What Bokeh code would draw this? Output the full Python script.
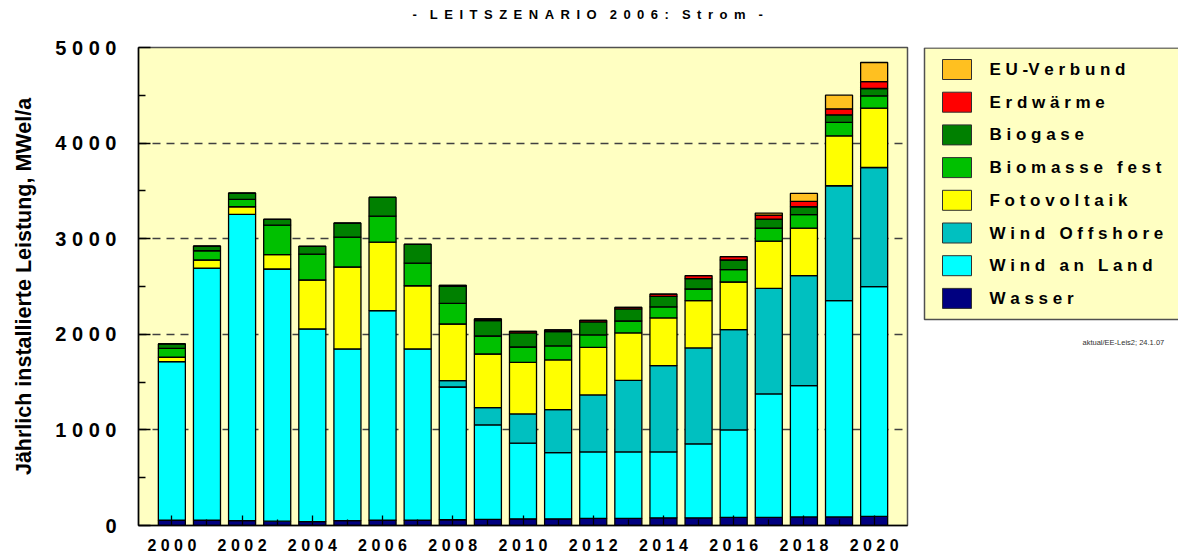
from bokeh.plotting import figure
from bokeh.models import ColumnDataSource, Range1d, FixedTicker, Title
from bokeh.layouts import row
from bokeh.core.properties import value
from bokeh.embed import file_html
from bokeh.resources import INLINE

# ---- data (MW el per year) ----
years = list(range(2000, 2021))
wasser        = [55, 55, 50, 45, 40, 50, 55, 55, 60, 65, 70, 70, 75, 75, 80, 80, 85, 85, 90, 90, 95]
wind_land     = [1659, 2638, 3204, 2638, 2016, 1797, 2192, 1792, 1389, 987, 791, 693, 695, 695, 690, 774, 915, 1291, 1373, 2262, 2403]
wind_offshore = [0, 0, 0, 0, 0, 0, 0, 0, 67, 181, 306, 449, 596, 749, 902, 1003, 1049, 1105, 1150, 1202, 1247]
fotovoltaik   = [46, 84, 80, 150, 512, 857, 718, 661, 592, 561, 540, 520, 498, 495, 499, 495, 498, 494, 498, 522, 621]
biomasse_fest = [93, 97, 77, 310, 271, 313, 272, 237, 216, 188, 160, 146, 129, 125, 115, 122, 129, 136, 140, 140, 128]
biogase       = [46, 49, 66, 59, 81, 146, 195, 195, 177, 161, 147, 150, 136, 126, 111, 108, 101, 94, 83, 80, 77]
erdwaerme     = [0, 0, 0, 0, 0, 0, 0, 0, 11, 17, 17, 17, 17, 17, 24, 31, 35, 42, 56, 63, 73]
eu_verbund    = [0, 0, 0, 0, 0, 0, 0, 0, 0, 0, 0, 0, 0, 0, 0, 0, 0, 21, 84, 142, 199]

series_keys = ["wasser", "wind_land", "wind_offshore", "fotovoltaik",
               "biomasse_fest", "biogase", "erdwaerme", "eu_verbund"]
series_names = ["Wasser", "Wind an Land", "Wind Offshore", "Fotovoltaik",
                "Biomasse fest", "Biogase", "Erdwärme", "EU-Verbund"]
series_colors = ["#000080", "#00FFFF", "#00C0C0", "#FFFF00",
                 "#00C000", "#008000", "#FF0000", "#FFC020"]

y_ticks = [0, 1000, 2000, 3000, 4000, 5000]
y_minor = [500, 1500, 2500, 3500, 4500]
x_ticks = list(range(2000, 2021, 2))
x_minor = list(range(2001, 2021, 2))

title_words = ["-", "LEITSZENARIO", "2006:", "Strom", "-"]
note_text = "aktual/EE-Leis2; 24.1.07"
y_label = "Jährlich installierte Leistung, MWel/a"


def spaced(words, gap, word_gap):
    return word_gap.join(gap.join(w) for w in words)


title_text = spaced(title_words, "\u2002", "\u2002\u2002")
legend_labels = [spaced(n.split(" "), " ", " \u00a0 ").replace("- V", "-V") for n in series_names]

source = ColumnDataSource(dict(
    year=years, wasser=wasser, wind_land=wind_land, wind_offshore=wind_offshore,
    fotovoltaik=fotovoltaik, biomasse_fest=biomasse_fest, biogase=biogase,
    erdwaerme=erdwaerme, eu_verbund=eu_verbund))

FONT = "Liberation Sans"
BG = "#FFFFC2"
H = 556

# ---------------- main chart ----------------
p = figure(width=910, height=H, output_backend="svg", toolbar_location=None, title=None,
           x_range=Range1d(1999.05, 2020.95), y_range=Range1d(0, 5000),
           min_border_left=138, min_border_right=3, min_border_top=47, min_border_bottom=31)
p.background_fill_color = BG
p.border_fill_color = "white"
p.outline_line_color = "#505050"
p.outline_line_width = 1.5

renderers = p.vbar_stack(series_keys, x="year", width=0.77, source=source,
                         color=series_colors, line_color="black", line_width=1.3)

# spacer title (white on white, nearest the frame) lifts the real title upwards
p.add_layout(Title(text=".", text_font_size="2px", standoff=20, text_color="white"), "above")
p.add_layout(Title(text=title_text, align="left", offset=274, standoff=6,
                   text_font=FONT, text_font_style="bold", text_font_size="13px",
                   text_color="black"), "above")

p.xaxis.ticker = FixedTicker(ticks=x_ticks, minor_ticks=x_minor)
p.xaxis.major_label_overrides = {y: " ".join(str(y)) for y in x_ticks}
p.yaxis.ticker = FixedTicker(ticks=y_ticks, minor_ticks=y_minor)
p.yaxis.major_label_overrides = {v: " ".join(str(v)) for v in y_ticks}

for ax in (p.xaxis[0], p.yaxis[0]):
    ax.axis_line_color = "black"
    ax.axis_line_width = 1.5
    ax.major_tick_line_color = "black"
    ax.minor_tick_line_color = "black"
    ax.major_tick_line_width = 1.3
    ax.minor_tick_line_width = 1.3
    ax.major_tick_out = 0
    ax.minor_tick_out = 0
    ax.major_label_text_font = FONT
    ax.major_label_text_font_style = "bold"
    ax.major_label_text_color = "black"

p.xaxis.major_tick_in = 10
p.xaxis.minor_tick_in = 6
p.xaxis.major_label_text_font_size = "16px"
p.xaxis.major_label_standoff = 11

p.yaxis.major_tick_in = 12
p.yaxis.minor_tick_in = 7
p.yaxis.major_label_text_font_size = "20px"
p.yaxis.major_label_standoff = 22
p.yaxis.axis_label = y_label
p.yaxis.axis_label_text_font = FONT
p.yaxis.axis_label_text_font_style = "bold"
p.yaxis.axis_label_text_font_size = "21.5px"
p.yaxis.axis_label_text_color = "black"
p.yaxis.axis_label_standoff = 16

p.xgrid.grid_line_color = None
p.ygrid.grid_line_color = "#404040"
p.ygrid.grid_line_dash = "8 6"
p.ygrid.grid_line_width = 1.3

# ---------------- legend panel ----------------
# frame of this panel is aligned with the chart's frame (page y 47..525);
# data y = H - page_y, data x = page_x - 910
LW = 268
lg = figure(width=LW, height=H, output_backend="svg", toolbar_location=None,
            x_range=Range1d(0, LW), y_range=Range1d(H - 525, H - 47),
            x_axis_type=None, y_axis_type=None,
            min_border_left=0, min_border_right=0, min_border_top=47, min_border_bottom=31)
lg.outline_line_color = None
lg.background_fill_color = "white"
lg.border_fill_color = "white"
lg.grid.visible = False

lg.quad(left=[14], right=[LW + 20], top=[H - 47.5], bottom=[H - 319],
        fill_color=BG, line_color="#505050", line_width=1.5)

order = list(reversed(range(len(series_keys))))  # EU-Verbund on top
tops = [59 + 32.7 * k for k in range(len(order))]
sw_src = ColumnDataSource(dict(
    left=[32] * len(order), right=[61] * len(order),
    top=[H - t for t in tops], bottom=[H - t - 20 for t in tops],
    color=[series_colors[i] for i in order],
    tx=[79] * len(order), ty=[H - t - 10 for t in tops],
    label=[legend_labels[i] for i in order]))
lg.quad(left="left", right="right", top="top", bottom="bottom", fill_color="color",
        line_color="#303030", line_width=1, source=sw_src)
lg.text(x="tx", y="ty", text="label", source=sw_src, text_font=value(FONT),
        text_font_style="bold", text_font_size="17px", text_baseline="middle",
        text_align="left", text_color="black")

lg.text(x=[172], y=[H - 342], text=[note_text], text_font=value(FONT),
        text_font_size="7.5px", text_baseline="middle", text_align="left",
        text_color="#303030")

layout = row(p, lg)
open("out.html", "w").write(file_html(layout, INLINE))
